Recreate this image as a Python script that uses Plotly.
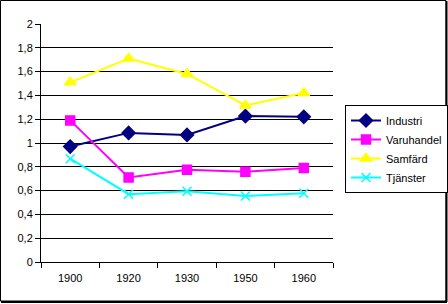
import plotly.graph_objects as go

years = ["1900", "1920", "1930", "1950", "1960"]
industri = [0.97, 1.085, 1.068, 1.226, 1.22]
varuhandel = [1.19, 0.71, 0.775, 0.758, 0.79]
samfard = [1.51, 1.71, 1.58, 1.316, 1.42]
tjanster = [0.868, 0.57, 0.595, 0.555, 0.578]

ytick_vals = [0, 0.2, 0.4, 0.6, 0.8, 1, 1.2, 1.4, 1.6, 1.8, 2]
ytick_text = ["0", "0,2", "0,4", "0,6", "0,8", "1", "1,2", "1,4", "1,6", "1,8", "2"]

W, H = 448, 304
L, R, T, B = 41, 115, 24, 42
pw, ph = W - L - R, H - T - B

fig = go.Figure()
series = [
    ("Industri", industri, "#000080", "diamond", 10),
    ("Varuhandel", varuhandel, "#FF00FF", "square", 9),
    ("Samfärd", samfard, "#FFFF00", "triangle-up", 10),
    ("Tjänster", tjanster, "#00FFFF", "x-thin-open", 9),
]
for name, vals, col, sym, sz in series:
    fig.add_trace(go.Scatter(
        x=years, y=vals, name=name, mode="lines+markers",
        line=dict(color=col, width=2),
        marker=dict(symbol=sym, size=sz, color=col, line=dict(color=col, width=1.5)),
    ))

def px_x(p):
    return (p - L) / pw

def px_y(p):
    return 1 - (p - T) / ph

shapes = [
    dict(type="rect", xref="paper", yref="paper",
         x0=px_x(0.5), x1=px_x(446), y0=px_y(301), y1=px_y(0.5),
         line=dict(color="black", width=1)),
    dict(type="line", xref="paper", yref="paper",
         x0=px_x(1), x1=px_x(447), y0=px_y(302), y1=px_y(302),
         line=dict(color="black", width=2)),
    dict(type="line", xref="paper", yref="paper",
         x0=px_x(446.5), x1=px_x(446.5), y0=px_y(1), y1=px_y(302),
         line=dict(color="black", width=2)),
    dict(type="rect", xref="paper", yref="paper", layer="below",
         x0=px_x(347), x1=px_x(441), y0=px_y(183), y1=px_y(107),
         fillcolor="black", line=dict(width=0)),
]

fig.update_layout(
    width=W, height=H,
    margin=dict(l=L, r=R, t=T, b=B),
    paper_bgcolor="white", plot_bgcolor="white",
    font=dict(family="Liberation Sans, Arial, sans-serif", size=11, color="black"),
    showlegend=True,
    legend=dict(
        xref="container", yref="container",
        x=345 / W, y=1 - 105 / H, xanchor="left", yanchor="top",
        bgcolor="white", bordercolor="black", borderwidth=1,
        font=dict(size=11), itemwidth=30,
    ),
    shapes=shapes,
    xaxis=dict(
        type="category", range=[-0.5, 4.5], showgrid=False, showline=True,
        linecolor="black", ticks="outside", tickson="boundaries", ticklen=5,
        tickcolor="black", zeroline=False, tickfont=dict(size=11),
        ticklabelstandoff=6,
    ),
    yaxis=dict(
        range=[0, 2], tickvals=ytick_vals, ticktext=ytick_text,
        showgrid=True, gridcolor="black", gridwidth=1,
        showline=True, linecolor="black", ticks="outside", ticklen=5,
        tickcolor="black", zeroline=False, tickfont=dict(size=11),
    ),
)

fig.write_html("out.html")
